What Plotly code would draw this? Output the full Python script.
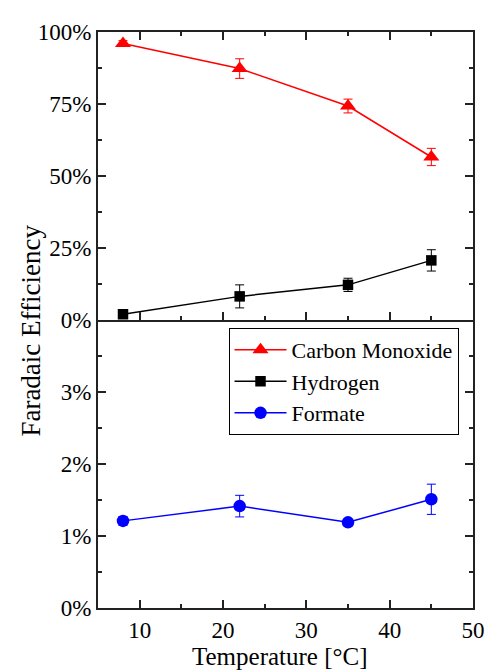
import plotly.graph_objects as go
from plotly.subplots import make_subplots

temperature = [8, 22, 35, 45]
co_fe = [96.0, 87.3, 74.3, 56.6]
co_err = [1.0, 3.4, 2.4, 3.0]
h2_fe = [2.0, 8.2, 12.2, 20.7]
h2_err = [1.0, 4.0, 2.3, 3.7]
formate_fe = [1.21, 1.415, 1.19, 1.51]
formate_err = [0.06, 0.15, 0.04, 0.21]

top_ticks = [0, 25, 50, 75, 100]
top_labels = ["0%", "25%", "50%", "75%", "100%"]
bottom_ticks = [0, 1, 2, 3]
bottom_labels = ["0%", "1%", "2%", "3%"]
x_ticks = [10, 20, 30, 40, 50]
x_labels = ["10", "20", "30", "40", "50"]

FONT = "'Liberation Serif', 'Times New Roman', serif"

fig = make_subplots(rows=2, cols=1, shared_xaxes=True, vertical_spacing=0)

fig.add_trace(go.Scatter(
    x=temperature, y=co_fe, name="Carbon Monoxide", mode="lines+markers",
    line=dict(color="#FF0000", width=1.5),
    marker=dict(symbol="triangle-up", size=14, color="#FF0000"),
    error_y=dict(type="data", array=co_err, color="#FF0000", thickness=1, width=4.5),
), row=1, col=1)

fig.add_trace(go.Scatter(
    x=temperature, y=h2_fe, name="Hydrogen", mode="lines+markers",
    line=dict(color="#000000", width=1.5),
    marker=dict(symbol="square", size=10.5, color="#000000"),
    error_y=dict(type="data", array=h2_err, color="#000000", thickness=1, width=4.5),
), row=1, col=1)

fig.add_trace(go.Scatter(
    x=temperature, y=formate_fe, name="Formate", mode="lines+markers",
    line=dict(color="#0000FF", width=1.5),
    marker=dict(symbol="circle", size=12.5, color="#0000FF"),
    error_y=dict(type="data", array=formate_err, color="#0000FF", thickness=1, width=4.5),
), row=2, col=1)

axis_common = dict(
    showline=True, linecolor="#222222", linewidth=2, mirror="ticks",
    ticks="inside", ticklen=8, tickwidth=1.5, tickcolor="#222222",
    showgrid=False, zeroline=False,
    tickfont=dict(family=FONT, size=23, color="#000000"),
)

fig.update_xaxes(**axis_common, range=[5, 50], tickmode="array", tickvals=x_ticks, ticktext=x_labels,
                 minor=dict(ticks="inside", ticklen=4, dtick=5, tick0=0, tickcolor="#222222", tickwidth=1.5))
fig.update_xaxes(showticklabels=False, row=1, col=1)
fig.update_xaxes(mirror=False, row=2, col=1)

fig.update_yaxes(**axis_common)
fig.update_yaxes(range=[0, 100], tickmode="array", tickvals=top_ticks, ticktext=top_labels,
                 minor=dict(ticks="inside", ticklen=4, dtick=12.5, tick0=0, tickcolor="#222222", tickwidth=1.5),
                 row=1, col=1)
fig.update_yaxes(range=[0, 4], tickmode="array", tickvals=bottom_ticks, ticktext=bottom_labels,
                 minor=dict(ticks="inside", ticklen=4, dtick=0.5, tick0=0, tickcolor="#222222", tickwidth=1.5),
                 row=2, col=1)

fig.add_annotation(text="Faradaic Efficiency", xref="paper", yref="paper",
                   x=(29 - 98) / 385, y=(608 - 326) / 586, xanchor="center", yanchor="middle",
                   textangle=-90, showarrow=False, font=dict(family=FONT, size=27, color="#000000"))
fig.add_annotation(text="Temperature [°C]", xref="paper", yref="paper",
                   x=(285 - 98) / 385, y=(608 - 657) / 586, xanchor="center", yanchor="middle",
                   showarrow=False, font=dict(family=FONT, size=25, color="#000000"))

# the page body has an 8px default margin, so the figure is offset by 8px
fig.update_layout(
    width=489, height=664,
    margin=dict(l=90, r=14, t=14, b=64),
    paper_bgcolor="white", plot_bgcolor="white",
    showlegend=True,
    legend=dict(x=(232 - 98) / 385, y=(608 - 323) / 586, xanchor="left", yanchor="top",
                bordercolor="#000000", borderwidth=1, bgcolor="white",
                font=dict(family=FONT, size=22, color="#000000"),
                tracegroupgap=0, itemwidth=52),
    font=dict(family=FONT),
)

fig.write_html("out.html")
